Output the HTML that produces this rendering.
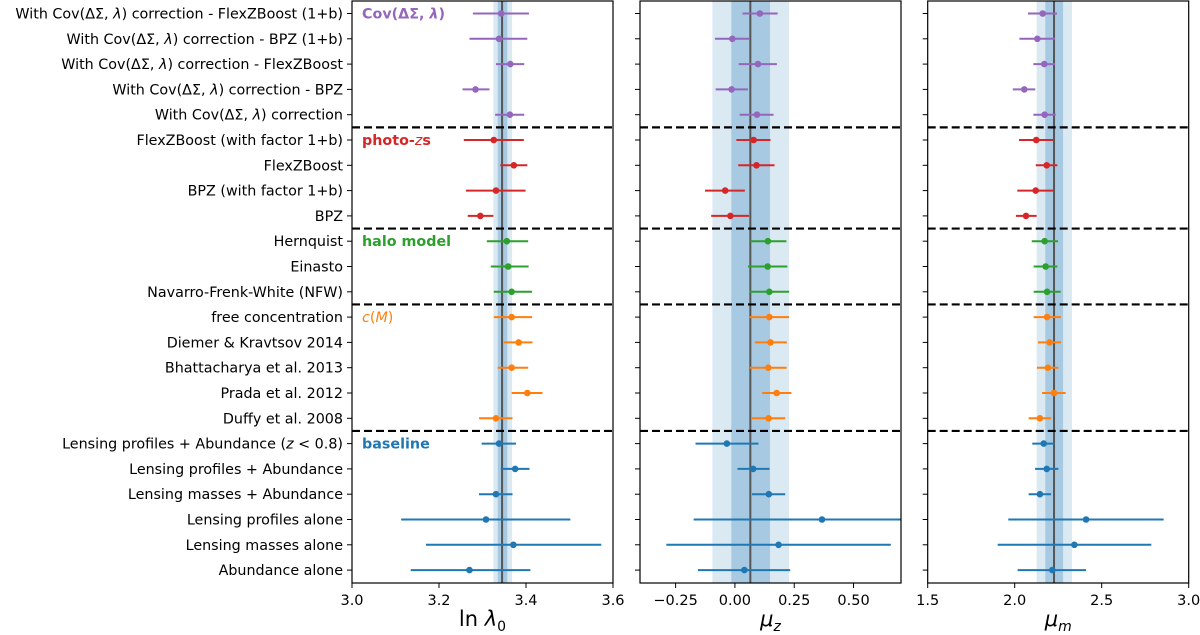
<!DOCTYPE html>
<html><head><meta charset="utf-8"><style>
html,body{margin:0;padding:0;background:#fff;}
svg{display:block;font-family:"DejaVu Sans","Liberation Sans",sans-serif;}
</style></head><body>
<svg id="chart" width="1200" height="635" viewBox="0 0 1200 635" xmlns="http://www.w3.org/2000/svg"></svg>
<script>
const rowLabels = [
 "With Cov(ΔΣ, λ) correction - FlexZBoost (1+b)",
 "With Cov(ΔΣ, λ) correction - BPZ (1+b)",
 "With Cov(ΔΣ, λ) correction - FlexZBoost",
 "With Cov(ΔΣ, λ) correction - BPZ",
 "With Cov(ΔΣ, λ) correction",
 "FlexZBoost (with factor 1+b)",
 "FlexZBoost",
 "BPZ (with factor 1+b)",
 "BPZ",
 "Hernquist",
 "Einasto",
 "Navarro-Frenk-White (NFW)",
 "free concentration",
 "Diemer & Kravtsov 2014",
 "Bhattacharya et al. 2013",
 "Prada et al. 2012",
 "Duffy et al. 2008",
 "Lensing profiles + Abundance (z < 0.8)",
 "Lensing profiles + Abundance",
 "Lensing masses + Abundance",
 "Lensing profiles alone",
 "Lensing masses alone",
 "Abundance alone"
];
const rowGroup = [0,0,0,0,0,1,1,1,1,2,2,2,3,3,3,3,3,4,4,4,4,4,4];
const groupColors = ["#9467bd","#d62728","#2ca02c","#ff7f0e","#1f77b4"];
const groupStartRows = [0,5,9,12,17];
const separatorsAfter = [4,8,11,16];

const lnVal = [3.343,3.338,3.364,3.284,3.363,3.326,3.372,3.331,3.295,3.356,3.359,3.367,3.367,3.383,3.367,3.403,3.331,3.338,3.375,3.331,3.308,3.371,3.270];
const lnLo  = [3.278,3.270,3.331,3.254,3.329,3.257,3.341,3.262,3.266,3.310,3.319,3.326,3.326,3.349,3.335,3.367,3.292,3.298,3.342,3.292,3.113,3.170,3.135];
const lnHi  = [3.407,3.403,3.396,3.316,3.396,3.395,3.403,3.399,3.325,3.405,3.406,3.414,3.414,3.415,3.405,3.438,3.369,3.377,3.408,3.369,3.502,3.573,3.410];

const mzVal = [0.105,-0.011,0.097,-0.014,0.093,0.079,0.091,-0.041,-0.019,0.139,0.138,0.145,0.145,0.150,0.141,0.176,0.142,-0.034,0.077,0.143,0.367,0.184,0.040];
const mzLo  = [0.032,-0.084,0.016,-0.081,0.020,0.006,0.014,-0.126,-0.100,0.065,0.055,0.062,0.062,0.084,0.063,0.115,0.072,-0.166,0.011,0.072,-0.174,-0.289,-0.156];
const mzHi  = [0.180,0.063,0.177,0.055,0.163,0.150,0.167,0.042,0.059,0.217,0.221,0.228,0.228,0.219,0.218,0.238,0.212,0.099,0.146,0.212,0.760,0.657,0.233];

const mmVal = [2.161,2.130,2.170,2.055,2.172,2.124,2.184,2.121,2.065,2.172,2.178,2.186,2.186,2.201,2.191,2.226,2.145,2.167,2.184,2.145,2.410,2.343,2.216];
const mmLo  = [2.076,2.027,2.107,1.989,2.107,2.025,2.121,2.015,2.007,2.098,2.109,2.109,2.109,2.134,2.128,2.157,2.080,2.101,2.117,2.080,1.963,1.902,2.017];
const mmHi  = [2.243,2.232,2.232,2.118,2.236,2.224,2.245,2.226,2.126,2.249,2.245,2.264,2.266,2.266,2.251,2.293,2.209,2.230,2.251,2.209,2.856,2.785,2.410];

const lnBand = [3.345,3.335,3.357,3.325,3.368];
const mzBand = [0.065,-0.015,0.148,-0.095,0.228];
const mmBand = [2.226,2.176,2.278,2.126,2.329];

const lnTicks = [3.0,3.2,3.4,3.6];
const lnTickLabels = ["3.0","3.2","3.4","3.6"];
const mzTicks = [-0.25,0,0.25,0.5];
const mzTickLabels = ["−0.25","0.00","0.25","0.50"];
const mmTicks = [1.5,2.0,2.5,3.0];
const mmTickLabels = ["1.5","2.0","2.5","3.0"];

const NS="http://www.w3.org/2000/svg";
const svg=document.getElementById('chart');
function el(tag,attrs,parent){const e=document.createElementNS(NS,tag);for(const k in attrs)e.setAttribute(k,attrs[k]);(parent||svg).appendChild(e);return e;}
function esc(s){return s.replace(/&/g,'&amp;').replace(/</g,'&lt;');}

const TOP=1, BOT=583, ROW0=13.5, ROWH=25.3;
function yRow(i){return ROW0+i*ROWH;}

const panels=[
 {name:"ln-lambda0",x0:352,x1:613,d0:3.0,d1:3.6,val:lnVal,lo:lnLo,hi:lnHi,band:lnBand,ticks:lnTicks,tl:lnTickLabels},
 {name:"mu-z",x0:640,x1:901,d0:-0.4,d1:0.7,val:mzVal,lo:mzLo,hi:mzHi,band:mzBand,ticks:mzTicks,tl:mzTickLabels},
 {name:"mu-m",x0:927.7,x1:1188.7,d0:1.5,d1:3.0,val:mmVal,lo:mmLo,hi:mmHi,band:mmBand,ticks:mmTicks,tl:mmTickLabels}
];

panels.forEach((p,pi)=>{
  const g=el('g',{});
  
  
  const clipId='clip'+pi;
  const cp=el('clipPath',{id:clipId},g);
  el('rect',{x:p.x0,y:TOP,width:p.x1-p.x0,height:BOT-TOP},cp);
  const sx=v=>p.x0+(v-p.d0)/(p.d1-p.d0)*(p.x1-p.x0);
  const inner=el('g',{'clip-path':'url(#'+clipId+')'},g);
  const ob=el('rect',{x:sx(p.band[3]),y:TOP,width:sx(p.band[4])-sx(p.band[3]),height:BOT-TOP,fill:'rgba(31,119,180,0.16)'},inner);
  
  
  const ib=el('rect',{x:sx(p.band[1]),y:TOP,width:sx(p.band[2])-sx(p.band[1]),height:BOT-TOP,fill:'rgba(31,119,180,0.28)'},inner);
  
  
  const cl=el('line',{x1:sx(p.band[0]),x2:sx(p.band[0]),y1:TOP,y2:BOT,stroke:'#555',"stroke-width":2},inner);
  
  
  separatorsAfter.forEach(r=>{
    const y=(yRow(r)+yRow(r+1))/2;
    const s=el('line',{x1:p.x0,x2:p.x1,y1:y,y2:y,stroke:'#000',"stroke-width":2.2,"stroke-dasharray":"8,4"},inner);
    
    
  });
  p.val.forEach((v,i)=>{
    const c=groupColors[rowGroup[i]];
    const y=yRow(i);
    const eb=el('line',{x1:sx(p.lo[i]),x2:sx(p.hi[i]),y1:y,y2:y,stroke:c,"stroke-width":2},inner);
    
    
    const pt=el('circle',{cx:sx(v),cy:y,r:3.3,fill:c},inner);
    
    
  });
  el('rect',{x:p.x0,y:TOP,width:p.x1-p.x0,height:BOT-TOP,fill:'none',stroke:'#000',"stroke-width":1.2},g);
  for(let i=0;i<rowLabels.length;i++){
    el('line',{x1:p.x0-5,x2:p.x0,y1:yRow(i),y2:yRow(i),stroke:'#000',"stroke-width":1},g);
  }
  p.ticks.forEach((t,k)=>{
    const x=sx(t);
    el('line',{x1:x,x2:x,y1:BOT,y2:BOT+5,stroke:'#000',"stroke-width":1},g);
    const tt=el('text',{x:x,y:BOT+22,"text-anchor":"middle","font-size":14.5,fill:'#000'},g);
    tt.textContent=p.tl[k];
    
    
  });
  const cx=(p.x0+p.x1)/2;
  const at=el('text',{x:cx,y:626,"text-anchor":"middle","font-size":21,fill:'#000'},g);
  
  
  if(pi===0){
    at.innerHTML='ln <tspan font-style="italic">λ</tspan><tspan font-size="14" dy="5">0</tspan>';
  }else if(pi===1){
    at.innerHTML='<tspan font-style="italic">μ</tspan><tspan font-style="italic" font-size="14" dy="5">z</tspan>';
  }else{
    at.innerHTML='<tspan font-style="italic">μ</tspan><tspan font-style="italic" font-size="14" dy="5">m</tspan>';
  }
  if(pi===0){
    rowLabels.forEach((lab,i)=>{
      const t=el('text',{x:343,y:yRow(i)+5,"text-anchor":"end","font-size":14.3,fill:'#000'});
      let h=esc(lab).replace('λ','<tspan font-style="italic">λ</tspan>').replace('(z &lt;','(<tspan font-style="italic">z</tspan> &lt;');
      t.innerHTML=h;
      
      
    });
    const gl=[
      '<tspan>Cov(ΔΣ, </tspan><tspan font-style="italic">λ</tspan><tspan>)</tspan>',
      'photo-<tspan font-style="italic" font-weight="normal">z</tspan>s',
      'halo model',
      '<tspan font-style="italic" font-weight="normal">c</tspan><tspan font-weight="normal">(</tspan><tspan font-style="italic" font-weight="normal">M</tspan><tspan font-weight="normal">)</tspan>',
      'baseline'
    ];
    groupStartRows.forEach((r,k)=>{
      const t=el('text',{x:362,y:yRow(r)+5,"font-size":14.3,"font-weight":"bold",fill:groupColors[k]},g);
      t.innerHTML=gl[k];
      
      
    });
  }
});
</script>
</body></html>
